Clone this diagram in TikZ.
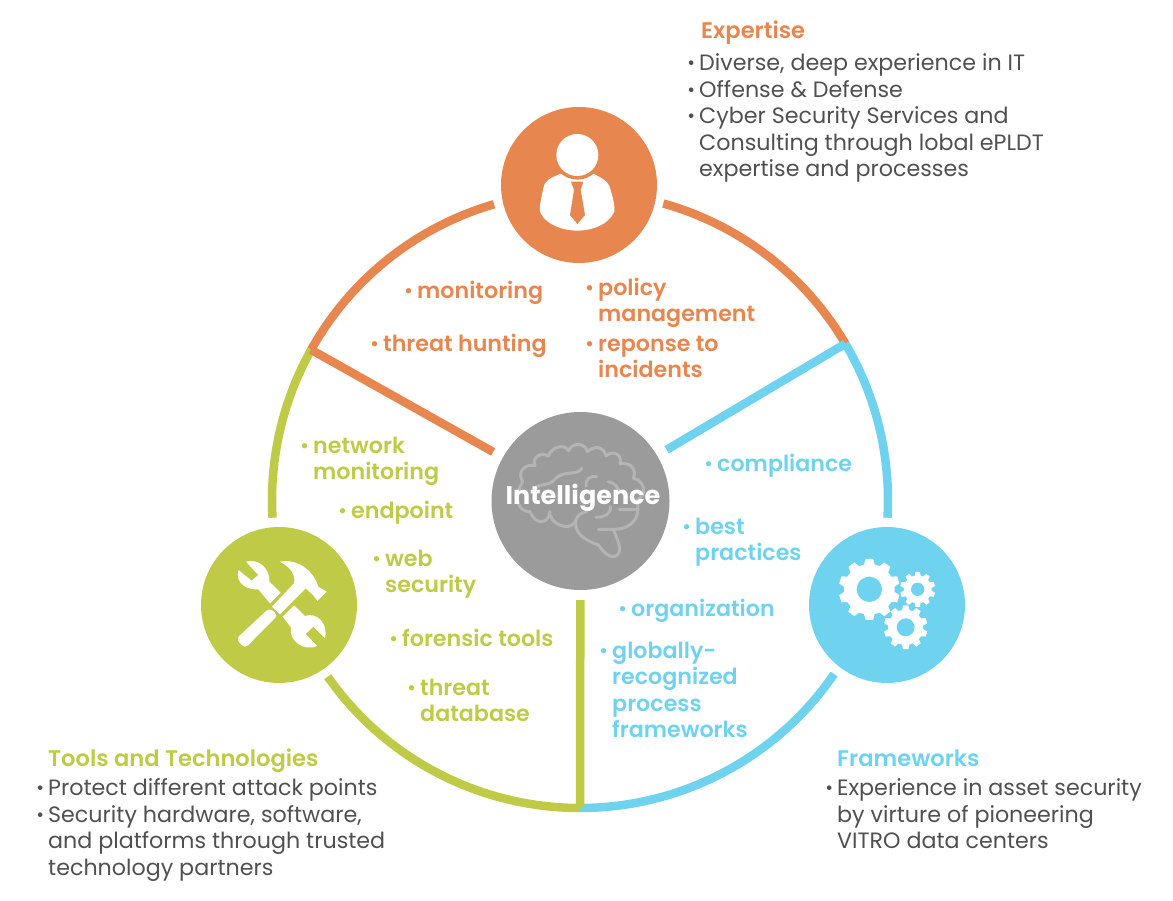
\documentclass[tikz,border=0pt]{standalone}
\usepackage{fontspec}
\usepackage{graphicx}
\setmainfont{Poppins}
\newfontfamily\semi{Poppins SemiBold}
\definecolor{corange}{HTML}{E8864F}
\definecolor{cblue}{HTML}{6FD3EF}
\definecolor{cgreen}{HTML}{BFCB47}
\definecolor{cgrey}{HTML}{9B9B9B}
\definecolor{cbrain}{HTML}{B4B4B4}
\definecolor{ctext}{HTML}{505050}
\newcommand\bul{\llap{\raisebox{1pt}{\scalebox{0.85}{\textbullet}}\hspace{4pt}}}
\newcommand\gearicon[6]{%
 \fill[white,shift={(#1,#2)},rotate=#5]
 (-12:#4) \foreach \a in {0,36,...,324}{ -- ({\a-12}:#4) -- ({\a-7}:#3) -- ({\a+7}:#3) -- ({\a+12}:#4)} -- cycle;
 \fill[cblue] (#1,#2) circle[radius=#6];}
\tikzset{
 ring/.style={line width=8.5pt,line cap=butt},
 hub/.style={circle,inner sep=0pt,minimum size=156pt},
 lab/.style={inner sep=0pt,anchor=north west,align=left,execute at begin node={\rule{0pt}{18pt}}},
 body/.style={lab,text=ctext,font=\fontsize{22.2}{26.5}\selectfont},
 head/.style={lab,font=\semi\fontsize{22.6}{26.5}\selectfont},
 item/.style={lab,font=\semi\fontsize{22.2}{26.3}\selectfont},
 zoomed/.style={x=0.33333pt,y=-0.33333pt},
 brainline/.style={draw=cbrain,line width=3pt,line cap=round,line join=round}
}
\begin{document}
\begin{tikzpicture}[x=1pt,y=1pt]
\useasboundingbox (0,0) rectangle (1173,900);
\coordinate (C) at (580,400);
\coordinate (jl) at ([shift={(150.8:308)}]C);
\coordinate (jr) at ([shift={(30.5:308)}]C);
\coordinate (jb) at ([shift={(270:308)}]C);
\node[hub,fill=corange] (expert) at (579,715) {};
\node[hub,fill=cgreen] (tools) at (279,295) {};
\node[hub,fill=cblue] (frame) at (887,295) {};
\node[circle,inner sep=0pt,minimum size=178pt,fill=cgrey] (brain) at (580.5,399) {};
% ring
\draw[ring,corange] (C) ++(106.2:308) arc[start angle=106.2,end angle=150.8,radius=308];
\draw[ring,corange] (C) ++(74.3:308) arc[start angle=74.3,end angle=30.5,radius=308];
\draw[ring,cgreen] (C) ++(150.8:308) arc[start angle=150.8,end angle=183.3,radius=308];
\draw[ring,cgreen] (C) ++(215:308) arc[start angle=215,end angle=270,radius=308];
\draw[ring,cblue] (C) ++(30.5:308) arc[start angle=30.5,end angle=-3.3,radius=308];
\draw[ring,cblue] (C) ++(-34.4:308) arc[start angle=-34.4,end angle=-90,radius=308];
% spokes
\draw[ring,corange,shorten >=11pt] (jl) -- (brain);
\draw[ring,cblue,shorten >=11pt] (jr) -- (brain);
\draw[ring,cgreen,shorten >=10pt] (jb) -- (brain);
% person icon
\begin{scope}[shift={(490,800)},zoomed]
\fill[white] (210,222) .. controls (180,235) and (165,240) .. (160,265) .. controls (155,290) and (145,325) .. (152,340)
 .. controls (170,375) and (220,392) .. (262,392) .. controls (305,392) and (355,375) .. (373,335)
 .. controls (375,310) and (365,280) .. (358,258) .. controls (350,240) and (335,235) .. (312,222) -- cycle;
\fill[corange] (262,165) circle[radius=74];
\fill[white] (262,165) circle[radius=63];
\fill[corange] (243,245) -- (280,245) -- (272,270) -- (285,345) -- (262,372) -- (240,345) -- (252,270) -- cycle;
\end{scope}
% tools icon
\begin{scope}[shift={(190,380)},zoomed]
\fill[white] (168,125) .. controls (200,115) and (240,140) .. (238,185) -- (272,218) -- (240,250) -- (205,208)
 .. controls (170,210) and (135,190) .. (145,150) -- (185,182) -- (205,165) -- cycle;
\fill[white] (312,256) -- (345,288) .. controls (380,275) and (415,310) .. (405,355) -- (370,320) -- (347,342) -- (382,378)
 .. controls (345,395) and (295,365) .. (303,322) -- (278,290) -- cycle;
\fill[white,rounded corners=4pt] (138,357) -- (238,264) -- (264,285) -- (165,385) -- cycle;
\fill[white] (246,260) -- (312,190) .. controls (318,165) and (300,140) .. (270,125) .. controls (320,115) and (370,150) .. (385,200)
 -- (410,215) -- (382,243) -- (370,226) -- (347,205) -- (270,283) -- cycle;
\end{scope}
% gears icon
\begin{scope}[shift={(800,380)},zoomed]
\gearicon{208}{208}{92}{76}{90}{38}
\gearicon{353}{208}{53}{42}{90}{20}
\gearicon{317}{322}{66}{53}{90}{27}
\end{scope}
% brain icon
\begin{scope}[shift={(480,500)},zoomed]
\draw[brainline] (128,245) .. controls (110,215) and (135,190) .. (165,197) .. controls (155,170) and (185,155) .. (205,168)
 .. controls (215,140) and (255,130) .. (265,152) .. controls (280,125) and (315,128) .. (322,155)
 .. controls (345,135) and (372,140) .. (378,168) .. controls (400,148) and (428,165) .. (420,192)
 .. controls (448,185) and (472,205) .. (460,235) .. controls (492,240) and (505,285) .. (470,300)
 .. controls (482,335) and (470,385) .. (405,388) -- (355,388);
\draw[brainline] (400,388) .. controls (412,420) and (425,440) .. (415,462) .. controls (400,480) and (375,465) .. (355,435)
 .. controls (310,420) and (280,395) .. (288,360) .. controls (292,345) and (305,338) .. (320,335);
\draw[brainline] (128,245) .. controls (105,280) and (105,335) .. (150,335) .. controls (165,375) and (205,375) .. (210,335);
\draw[brainline] (210,345) .. controls (225,385) and (280,390) .. (288,360);
\draw[brainline] (305,205) .. controls (295,228) and (245,210) .. (225,238) .. controls (205,260) and (180,250) .. (168,262);
\draw[brainline] (350,230) .. controls (330,225) and (315,240) .. (318,258);
\draw[brainline] (348,352) .. controls (370,352) and (392,345) .. (392,320);
\draw[brainline] (418,330) -- (470,330);
\draw[brainline] (385,245) .. controls (405,250) and (420,265) .. (415,280);
\end{scope}
\node[font=\bfseries\fontsize{25.5}{26}\selectfont,text=white,inner sep=0pt] (intel) at (583,402) {Intelligence};
% headings and lists
\node[head,text=corange] (hexp) at (701,880) {Expertise};
\node[body] (lexp) at (699,846.5) {\bul Diverse, deep experience in IT\\\bul Offense \& Defense\\\bul Cyber Security Services and\\Consulting through lobal ePLDT\\expertise and processes};
\node[head,text=cgreen] (htool) at (48,152) {Tools and Technologies};
\node[body] (ltool) at (48,121.5) {\bul Protect different attack points\\\bul Security hardware, software,\\and platforms through trusted\\technology partners};
\node[head,text=cblue] (hfr) at (837,152) {Frameworks};
\node[body] (lfr) at (837,121.5) {\bul Experience in asset security\\by virture of pioneering\\VITRO data centers};
% orange items
\tikzset{item/.append style={text=corange}}
\node[item] (i1) at (417,620) {\bul monitoring};
\node[item] (i2) at (598,622) {\bul policy\\management};
\node[item] (i3) at (383,567) {\bul threat hunting};
\node[item] (i4) at (598,564) {\bul reponse to\\incidents};
\tikzset{item/.append style={text=cgreen}}
\node[item] (g1) at (313,463.5) {\bul network\\monitoring};
\node[item] (g2) at (351,400) {\bul endpoint};
\node[item] (g3) at (385,350) {\bul web\\security};
\node[item] (g4) at (402,272) {\bul forensic tools};
\node[item] (g5) at (420,221.5) {\bul threat\\database};
\tikzset{item/.append style={text=cblue}}
\node[item] (b1) at (717,447) {\bul compliance};
\node[item] (b2) at (695,382.5) {\bul best\\practices};
\node[item] (b3) at (631,302) {\bul organization};
\node[item] (b4) at (612,258) {\bul globally-\\recognized\\process\\frameworks};
\end{tikzpicture}
\end{document}
